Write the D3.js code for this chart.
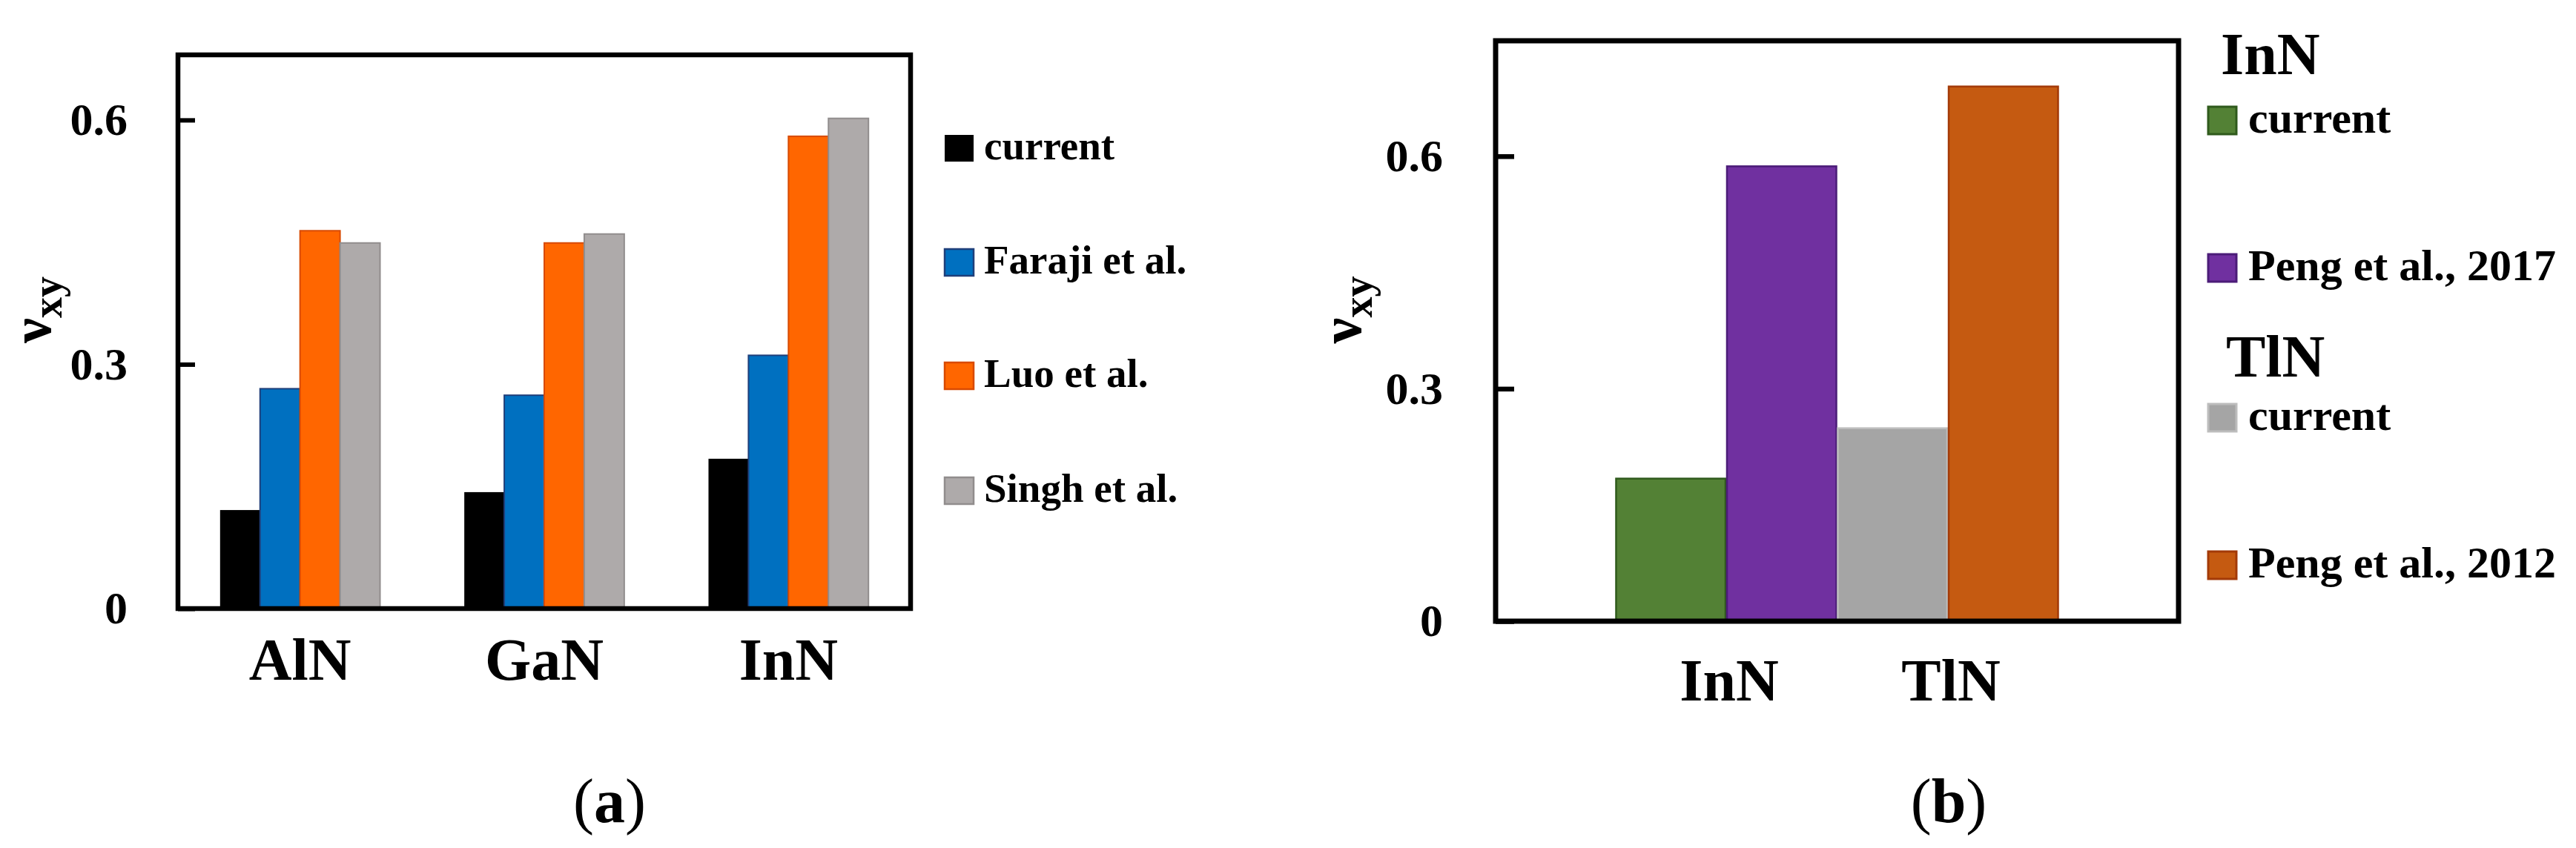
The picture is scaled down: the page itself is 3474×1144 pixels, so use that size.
<!DOCTYPE html>
<html>
<head>
<meta charset="utf-8">
<script src="https://cdn.jsdelivr.net/npm/d3@7"></script>
<style>
  html, body { margin: 0; padding: 0; background: #fff; }
  svg { display: block; }
  text { font-family: "Liberation Serif", "Times New Roman", serif; fill: #000; }
</style>
</head>
<body>
<svg id="chart" width="3474" height="1144"></svg>
<script>
// ---------- Data: panel (a) ----------
const catsA = ["AlN", "GaN", "InN"];
const seriesA = ["current", "Faraji et al.", "Luo et al.", "Singh et al."];
const currentA = [0.121, 0.143, 0.184];
const farajiA  = [0.270, 0.262, 0.311];
const luoA     = [0.464, 0.449, 0.580];
const singhA   = [0.449, 0.460, 0.602];
const colorsA  = ["#000000", "#0070C0", "#FF6600", "#AEAAAA"];
const strokesA = ["#000000", "#1F3F7A", "#D84A00", "#918D8D"];

// ---------- Data: panel (b) ----------
const catsB = ["InN", "TlN"];
const seriesInN = ["current", "Peng et al., 2017"];
const valuesInN = [0.184, 0.587];
const seriesTlN = ["current", "Peng et al., 2012"];
const valuesTlN = [0.249, 0.690];
const colorsInN  = ["#538135", "#7030A0"];
const strokesInN = ["#2F5A1C", "#4B1C78"];
const colorsTlN  = ["#A5A5A5", "#C55A11"];
const strokesTlN = ["#BDBDBD", "#A33A08"];

const yTicks = [0, 0.3, 0.6];
const tickFmt = d => d === 0 ? "0" : d3.format(".1f")(d);

const svg = d3.select("#chart");

// ================= Panel (a) =================
const A = { left: 240, right: 1228, top: 74, bottom: 821 };
const xA = d3.scaleBand().domain(catsA).range([A.left, A.right])
  .paddingInner(0.345).paddingOuter(0.1725);
const xSubA = d3.scaleBand().domain(seriesA).range([0, xA.bandwidth()]).padding(0);
const yA = d3.scaleLinear().domain([0, 0.68]).range([A.bottom, A.top]);

const tableA = catsA.map((c, i) => ({
  cat: c,
  vals: [currentA[i], farajiA[i], luoA[i], singhA[i]]
}));

const gA = svg.append("g");
const groupsA = gA.selectAll("g.grp").data(tableA).join("g")
  .attr("transform", d => `translate(${xA(d.cat)},0)`);
groupsA.selectAll("rect")
  .data(d => d.vals.map((v, j) => ({ s: seriesA[j], v, j })))
  .join("rect")
  .attr("x", d => xSubA(d.s))
  .attr("y", d => yA(d.v))
  .attr("width", xSubA.bandwidth())
  .attr("height", d => yA(0) - yA(d.v))
  .attr("fill", d => colorsA[d.j])
  .attr("stroke", d => strokesA[d.j])
  .attr("stroke-width", d => d.j === 0 ? 0 : 2);

// y axis (ticks pointing inward)
const axA = gA.append("g").attr("transform", `translate(${A.left},0)`)
  .call(d3.axisLeft(yA).tickValues(yTicks).tickFormat(tickFmt).tickSize(-23).tickPadding(68));
axA.select(".domain").remove();
axA.selectAll(".tick line").attr("stroke", "#000").attr("stroke-width", 6);
axA.selectAll(".tick text").attr("font-size", 62).attr("font-weight", "bold")
  .attr("font-family", "Liberation Serif, serif").attr("fill", "#000");

// frame
gA.append("rect").attr("x", A.left).attr("y", A.top)
  .attr("width", A.right - A.left).attr("height", A.bottom - A.top)
  .attr("fill", "none").attr("stroke", "#000").attr("stroke-width", 6.5);

// x labels
gA.selectAll("text.xl").data(catsA).join("text").attr("class", "xl")
  .attr("x", d => xA(d) + xA.bandwidth() / 2).attr("y", 917)
  .attr("text-anchor", "middle").attr("font-size", 80).attr("font-weight", "bold")
  .text(d => d);

// y label
const ylA = gA.append("text").attr("transform", "translate(68,418) rotate(-90)")
  .attr("text-anchor", "middle").attr("font-weight", "bold");
ylA.append("tspan").attr("font-size", 76).text("ν");
ylA.append("tspan").attr("font-size", 56).attr("dy", 15).text("xy");

// legend (a)
const legA = gA.append("g");
const legRowsA = [200, 354, 507, 662];
seriesA.forEach((s, i) => {
  legA.append("rect").attr("x", 1274).attr("y", legRowsA[i] - 18)
    .attr("width", 39).attr("height", 36)
    .attr("fill", colorsA[i]).attr("stroke", strokesA[i]).attr("stroke-width", i === 0 ? 0 : 2.5);
  legA.append("text").attr("x", 1327).attr("y", legRowsA[i] + 15)
    .attr("font-size", 55).attr("font-weight", "bold").text(s);
});

// caption (a)
const capA = gA.append("text").attr("x", 822).attr("y", 1109)
  .attr("text-anchor", "middle").attr("font-size", 84);
capA.append("tspan").text("(");
capA.append("tspan").attr("font-weight", "bold").text("a");
capA.append("tspan").text(")");

// ================= Panel (b) =================
const B = { left: 2017, right: 2938, top: 55, bottom: 838 };
const xB = d3.scaleBand().domain(catsB).range([B.left, B.right])
  .paddingInner(0).paddingOuter(0.54);
const yB = d3.scaleLinear().domain([0, 0.749]).range([B.bottom, B.top]);

const tableB = [
  { cat: catsB[0], series: seriesInN, vals: valuesInN, fills: colorsInN, strokes: strokesInN },
  { cat: catsB[1], series: seriesTlN, vals: valuesTlN, fills: colorsTlN, strokes: strokesTlN }
];

const gB = svg.append("g");
const groupsB = gB.selectAll("g.grp").data(tableB).join("g")
  .attr("transform", d => `translate(${xB(d.cat)},0)`);
groupsB.each(function (d) {
  const xs = d3.scaleBand().domain(d.series).range([0, xB.bandwidth()]).padding(0);
  d3.select(this).selectAll("rect")
    .data(d.vals.map((v, j) => ({ s: d.series[j], v, fill: d.fills[j], stroke: d.strokes[j] })))
    .join("rect")
    .attr("x", e => xs(e.s) + 1)
    .attr("y", e => yB(e.v))
    .attr("width", xs.bandwidth() - 2)
    .attr("height", e => yB(0) - yB(e.v))
    .attr("fill", e => e.fill)
    .attr("stroke", e => e.stroke)
    .attr("stroke-width", 2.5);
});

const axB = gB.append("g").attr("transform", `translate(${B.left},0)`)
  .call(d3.axisLeft(yB).tickValues(yTicks).tickFormat(tickFmt).tickSize(-25).tickPadding(71));
axB.select(".domain").remove();
axB.selectAll(".tick line").attr("stroke", "#000").attr("stroke-width", 6.5);
axB.selectAll(".tick text").attr("font-size", 62).attr("font-weight", "bold")
  .attr("font-family", "Liberation Serif, serif").attr("fill", "#000");

gB.append("rect").attr("x", B.left).attr("y", B.top)
  .attr("width", B.right - B.left).attr("height", B.bottom - B.top)
  .attr("fill", "none").attr("stroke", "#000").attr("stroke-width", 7);

gB.selectAll("text.xl").data(catsB).join("text").attr("class", "xl")
  .attr("x", d => xB(d) + xB.bandwidth() / 2 + 4).attr("y", 945)
  .attr("text-anchor", "middle").attr("font-size", 80).attr("font-weight", "bold")
  .text(d => d);

const ylB = gB.append("text").attr("transform", "translate(1835,418) rotate(-90)")
  .attr("text-anchor", "middle").attr("font-weight", "bold");
ylB.append("tspan").attr("font-size", 78).text("ν");
ylB.append("tspan").attr("font-size", 56).attr("dy", 15).text("xy");

// legend (b)
const legB = gB.append("g");
const legGroups = [
  { head: catsB[0], headX: 2995, headY: 100, series: seriesInN, fills: colorsInN, strokes: strokesInN, rows: [162, 361] },
  { head: catsB[1], headX: 3002, headY: 508, series: seriesTlN, fills: colorsTlN, strokes: strokesTlN, rows: [563, 762] }
];
legGroups.forEach(g => {
  legB.append("text").attr("x", g.headX).attr("y", g.headY)
    .attr("font-size", 80).attr("font-weight", "bold").text(g.head);
  g.series.forEach((s, i) => {
    legB.append("rect").attr("x", 2978).attr("y", g.rows[i] - 18)
      .attr("width", 38).attr("height", 37)
      .attr("fill", g.fills[i]).attr("stroke", g.strokes[i]).attr("stroke-width", 3);
    legB.append("text").attr("x", 3032).attr("y", g.rows[i] + 17)
      .attr("font-size", 60).attr("font-weight", "bold").text(s);
  });
});

const capB = gB.append("text").attr("x", 2628).attr("y", 1109)
  .attr("text-anchor", "middle").attr("font-size", 84);
capB.append("tspan").text("(");
capB.append("tspan").attr("font-weight", "bold").text("b");
capB.append("tspan").text(")");
</script>
</body>
</html>
